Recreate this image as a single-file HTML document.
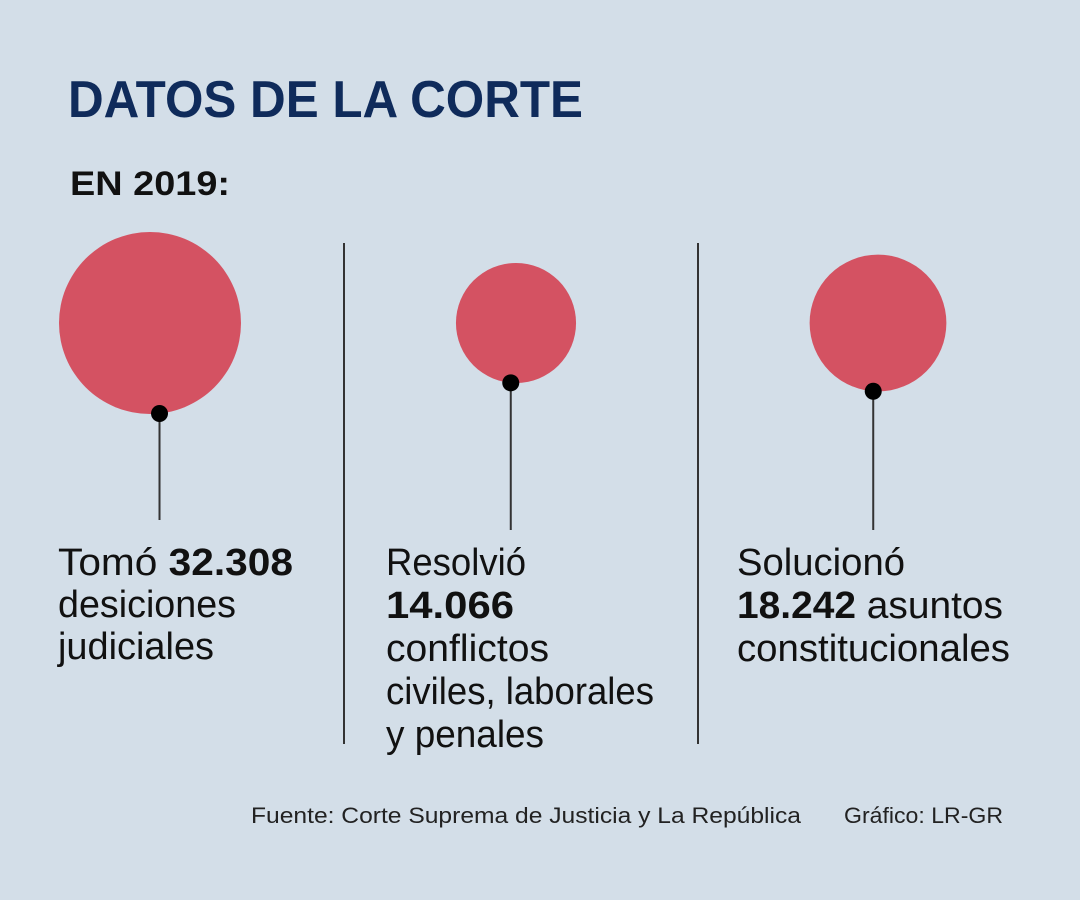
<!DOCTYPE html>
<html><head><meta charset="utf-8"><style>
html,body{margin:0;padding:0;background:#d3dee8;}
svg{display:block;font-family:"Liberation Sans",sans-serif;}
</style></head><body>
<svg id="chart" width="1080" height="900" viewBox="0 0 1080 900">
<rect width="1080" height="900" fill="#d3dee8"/>
<text x="68" y="117" font-size="52" font-weight="bold" fill="#0f2b5b" textLength="515" lengthAdjust="spacingAndGlyphs">DATOS DE LA CORTE</text>
<text x="70" y="195" font-size="34" font-weight="bold" fill="#111" textLength="160" lengthAdjust="spacingAndGlyphs">EN 2019:</text>
<line x1="344" y1="243" x2="344" y2="744" stroke="#333" stroke-width="2"/>
<line x1="698" y1="243" x2="698" y2="744" stroke="#333" stroke-width="2"/>
<g id="marks"></g>
<g font-size="38" fill="#111">
<text x="58" y="575"><tspan textLength="235" lengthAdjust="spacingAndGlyphs">Tomó <tspan font-weight="bold">32.308</tspan></tspan><tspan x="58" dy="42" textLength="178" lengthAdjust="spacingAndGlyphs">desiciones</tspan><tspan x="58" dy="42" textLength="156" lengthAdjust="spacingAndGlyphs">judiciales</tspan></text>
<text x="386" y="575"><tspan textLength="140" lengthAdjust="spacingAndGlyphs">Resolvió</tspan><tspan x="386" dy="43" font-weight="bold" textLength="128" lengthAdjust="spacingAndGlyphs">14.066</tspan><tspan x="386" dy="43" textLength="163" lengthAdjust="spacingAndGlyphs">conflictos</tspan><tspan x="386" dy="43" textLength="268" lengthAdjust="spacingAndGlyphs">civiles, laborales</tspan><tspan x="386" dy="43" textLength="158" lengthAdjust="spacingAndGlyphs">y penales</tspan></text>
<text x="737" y="575"><tspan textLength="168" lengthAdjust="spacingAndGlyphs">Solucionó</tspan><tspan x="737" dy="43" textLength="266" lengthAdjust="spacingAndGlyphs"><tspan font-weight="bold">18.242</tspan> asuntos</tspan><tspan x="737" dy="43" textLength="273" lengthAdjust="spacingAndGlyphs">constitucionales</tspan></text>
</g>
<text x="251" y="823" font-size="22" fill="#222" textLength="550" lengthAdjust="spacingAndGlyphs">Fuente: Corte Suprema de Justicia y La República</text>
<text x="844" y="823" font-size="22" fill="#222" textLength="159" lengthAdjust="spacingAndGlyphs">Gráfico: LR-GR</text>
</svg>
<script>
const categories = ["decisiones", "conflictos", "asuntos"];
const values = [32308, 14066, 18242];
const centersX = [150, 516, 878];
const cy = 323;
const maxR = 91;
const maxV = Math.max(...values);
function rScale(v){ return maxR * Math.sqrt(v / maxV); }
const g = document.getElementById('marks');
const NS = "http://www.w3.org/2000/svg";
values.forEach((v, i) => {
  const r = rScale(v);
  const cx = centersX[i];
  const c = document.createElementNS(NS, 'circle');
  c.setAttribute('cx', cx); c.setAttribute('cy', cy); c.setAttribute('r', r);
  c.setAttribute('fill', '#d45262');
  
  
  g.appendChild(c);
  const dx = cx + r * 0.1 - (i === 0 ? -0 : 0);
  const ang = i === 0 ? 84 : (i === 1 ? 95 : 94);
  const px = cx + r * Math.cos(ang * Math.PI / 180);
  const py = cy + r * Math.sin(ang * Math.PI / 180);
  const ln = document.createElementNS(NS, 'line');
  ln.setAttribute('x1', px); ln.setAttribute('y1', py);
  ln.setAttribute('x2', px); ln.setAttribute('y2', i === 0 ? 520 : 530);
  ln.setAttribute('stroke', '#333'); ln.setAttribute('stroke-width', '2');
  
  
  g.appendChild(ln);
  const d = document.createElementNS(NS, 'circle');
  d.setAttribute('cx', px); d.setAttribute('cy', py); d.setAttribute('r', 8.5);
  d.setAttribute('fill', '#000');
  
  
  g.appendChild(d);
});
</script>
</body></html>
